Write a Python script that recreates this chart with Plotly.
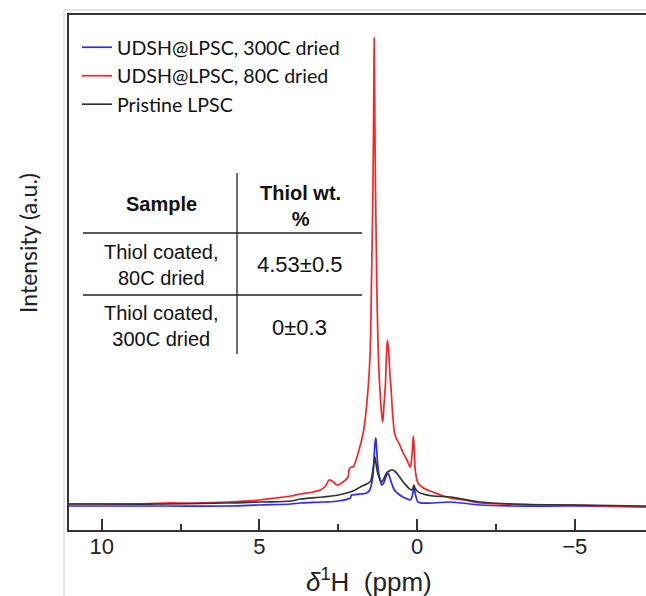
import plotly.graph_objects as go

# ---- data (chemical shift in ppm, intensity in a.u.) ----
red_ppm = [11.04, 10.0, 9.0, 8.0, 7.0, 6.0, 5.0, 4.5, 4.0, 3.7, 3.3, 3.07, 2.9, 2.79, 2.65, 2.54, 2.35,
           2.19, 2.15, 2.08, 2.03, 1.87, 1.71, 1.65, 1.55, 1.49, 1.44, 1.40, 1.37, 1.36, 1.35, 1.32, 1.28,
           1.23, 1.17, 1.12, 1.09, 1.05, 1.01, 0.97, 0.94, 0.90, 0.86, 0.83, 0.76, 0.70, 0.55, 0.44, 0.32,
           0.22, 0.17, 0.14, 0.12, 0.09, 0.05, -0.03, -0.2, -0.5, -1.05, -1.5, -2.0, -3.0, -4.0, -5.0, -6.0, -7.26]
red_int = [26, 26, 26, 27, 27, 28, 30, 32, 34, 36, 38, 40, 44, 50, 48, 45, 48,
           53, 61, 63, 63, 77, 97, 110, 143, 177, 260, 343, 450, 492, 450, 343, 250,
           177, 135, 115, 108, 125, 143, 175, 190, 178, 155, 143, 110, 95, 85, 77, 70,
           63, 72, 85, 94, 80, 58, 47, 42, 38, 32, 30, 27, 26, 25, 25, 24, 23]

blue_ppm = [11.04, 10.0, 8.0, 6.0, 5.0, 4.0, 3.7, 3.0, 2.5, 2.12, 2.08, 2.03, 1.8, 1.6, 1.5, 1.44, 1.40,
            1.36, 1.33, 1.31, 1.29, 1.26, 1.22, 1.17, 1.12, 1.06, 1.0, 0.95, 0.92, 0.87, 0.80, 0.72, 0.63,
            0.45, 0.30, 0.22, 0.16, 0.12, 0.10, 0.07, 0.03, -0.03, -0.5, -1.05, -2.0, -3.0, -5.0, -7.26]
blue_int = [24, 24, 24, 24, 25, 26, 27, 28, 29, 32, 35, 35, 36, 37, 40, 47, 55,
            75, 88, 92, 85, 70, 57, 50, 45, 47, 52, 56, 57, 53, 46, 40, 37,
            33, 31, 30, 33, 40, 43, 38, 33, 28, 27, 28, 25, 24, 24, 23]

black_ppm = [11.04, 10.0, 8.0, 6.0, 5.0, 4.0, 3.7, 3.0, 2.5, 2.03, 1.8, 1.6, 1.5, 1.46, 1.41, 1.37,
             1.34, 1.31, 1.27, 1.22, 1.17, 1.12, 1.06, 1.0, 0.95, 0.88, 0.82, 0.77, 0.68, 0.60, 0.44,
             0.30, 0.17, 0.12, 0.10, 0.07, 0.0, -0.1, -0.5, -1.05, -2.0, -3.0, -5.0, -7.26]
black_int = [26, 26, 26, 27, 28, 29, 31, 33, 35, 39, 43, 46, 48, 50, 58, 67,
             73, 68, 60, 54, 50, 48, 51, 55, 58, 59, 60, 60, 58, 55, 48,
             43, 40, 43, 45, 42, 39, 37, 34, 33, 28, 26, 25, 24]

series_names = ["UDSH@LPSC, 300C dried", "UDSH@LPSC, 80C dried", "Pristine LPSC"]
series_colors = ["#2a2aff", "#ff2222", "#333333"]

x_ticks = [10, 5, 0, -5]
x_tick_text = ["10", "5", "0", "\u22125"]
x_minor = [7.5, 2.5, -2.5]
x_range = [11.04, -7.26]
y_range = [0, 515]

table_header = ["<b>Sample</b>", "<b>Thiol wt.</b><br><b>%</b>"]
table_rows = [["Thiol coated,<br>80C dried", "4.53\u00b10.5"],
              ["Thiol coated,<br>300C dried", "0\u00b10.3"]]

W, H = 646, 596
ML, MR, MT, MB = 69, 0, 15, 66
PW, PH = W - ML - MR, H - MT - MB


def px(xp):
    return (xp - ML) / PW


def py(yp):
    return (H - MB - yp) / PH


fig = go.Figure()
for xs, ys, name, col in [(blue_ppm, blue_int, series_names[0], series_colors[0]),
                          (red_ppm, red_int, series_names[1], series_colors[1]),
                          (black_ppm, black_int, series_names[2], series_colors[2])]:
    fig.add_trace(go.Scatter(x=xs, y=ys, mode="lines", name=name,
                             line=dict(color=col, width=1.7), line_shape="spline"))

fig.update_xaxes(range=x_range, tickvals=x_ticks, ticktext=x_tick_text,
                 ticks="inside", ticklen=11, tickwidth=1.5, tickcolor="#333",
                 minor=dict(tickvals=x_minor, ticks="inside", ticklen=6, tickwidth=1.5, tickcolor="#333"),
                 showline=True, linecolor="#333", linewidth=2, mirror=True,
                 showgrid=False, zeroline=False, ticklabelstandoff=-4,
                 tickfont=dict(family="Liberation Sans", size=22, color="#222"))
fig.update_yaxes(range=y_range, showticklabels=False, ticks="", showgrid=False, zeroline=False,
                 showline=True, linecolor="#333", linewidth=2, mirror=False)

shapes = []
# outer light frame of the figure image
shapes.append(dict(type="line", xref="paper", yref="paper", x0=px(64), x1=px(646), y0=py(10), y1=py(10),
                   line=dict(color="#cccccc", width=1)))
shapes.append(dict(type="line", xref="paper", yref="paper", x0=px(64), x1=px(64), y0=py(10), y1=py(596),
                   line=dict(color="#cccccc", width=1)))
# table lines
tl = dict(color="#222", width=1.3)
shapes.append(dict(type="line", xref="paper", yref="paper", x0=px(237), x1=px(237), y0=py(173), y1=py(354), line=tl))
shapes.append(dict(type="line", xref="paper", yref="paper", x0=px(83), x1=px(362), y0=py(233), y1=py(233), line=tl))
shapes.append(dict(type="line", xref="paper", yref="paper", x0=px(83), x1=px(362), y0=py(295), y1=py(295), line=tl))

ann = []
tf = dict(family="Liberation Sans", size=20, color="#111")
vf = dict(family="Liberation Sans", size=22, color="#111")


def cell(text, xp, yp, font):
    ann.append(dict(text=text, x=px(xp), y=py(yp), xref="paper", yref="paper", showarrow=False,
                    xanchor="center", yanchor="middle", font=font))


cell(table_header[0], 161, 204, tf)
cell(table_header[1], 300, 206, tf)
cell(table_rows[0][0], 161, 265, tf)
cell(table_rows[0][1], 299, 264, vf)
cell(table_rows[1][0], 161, 326, tf)
cell(table_rows[1][1], 299, 327, vf)

# axis titles
ann.append(dict(text="Intensity (a.u.)", x=px(28), y=py(243), xref="paper", yref="paper", showarrow=False,
                xanchor="center", yanchor="middle",
                textangle=-90, font=dict(family="Lato", size=23, color="#222")))
ann.append(dict(text="<i>\u03b4</i><sup>1</sup>H  (ppm)", x=px(369), y=py(580), xref="paper", yref="paper",
                showarrow=False, xanchor="center", yanchor="middle",
                font=dict(family="Liberation Sans", size=26, color="#222")))

fig.update_layout(
    width=W, height=H, margin=dict(l=ML, r=MR, t=MT, b=MB),
    paper_bgcolor="white", plot_bgcolor="white",
    shapes=shapes, annotations=ann,
    legend=dict(x=px(77), y=py(28), xanchor="left", yanchor="top", bgcolor="rgba(0,0,0,0)",
                font=dict(family="Lato", size=19.6, color="#111"), itemwidth=30,
                tracegroupgap=0),
)

fig.write_html("out.html")
